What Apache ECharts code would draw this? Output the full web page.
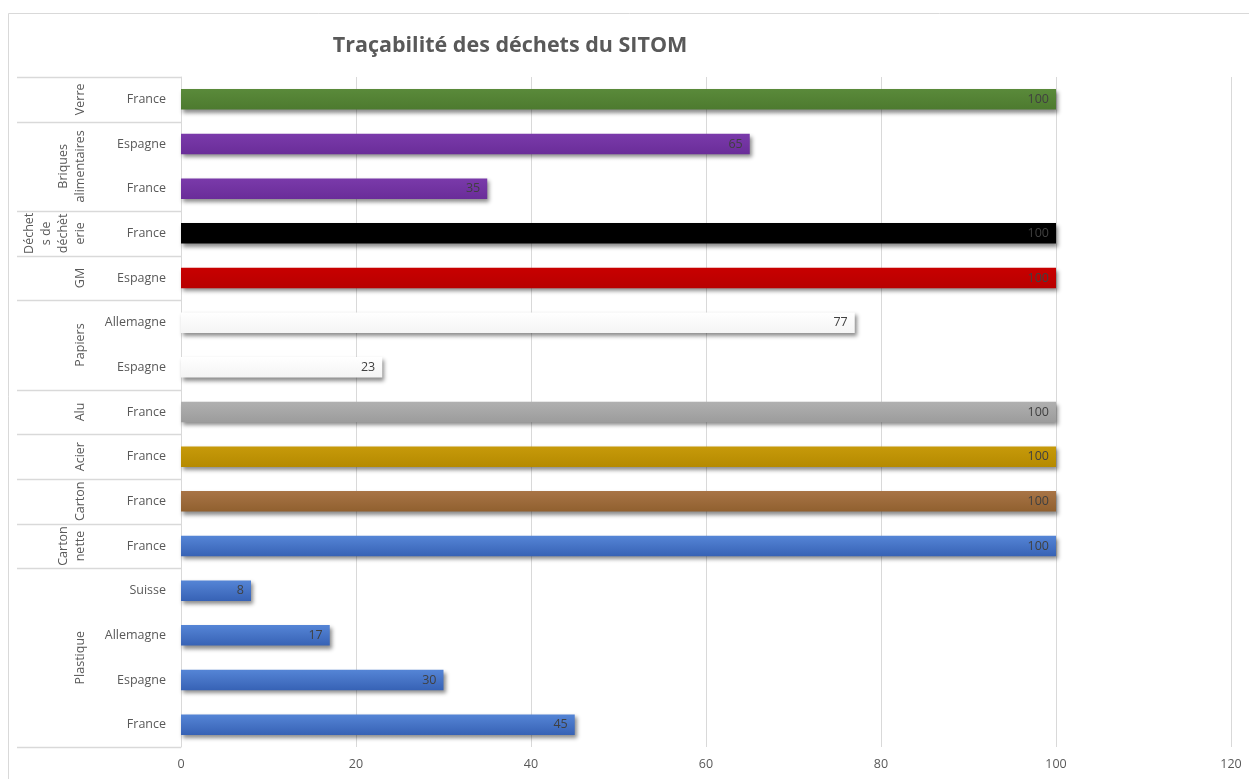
<!DOCTYPE html>
<html>
<head>
<meta charset="utf-8">
<script src="https://cdn.jsdelivr.net/npm/echarts@6/dist/echarts.min.js"></script>
<style>
html,body{margin:0;padding:0;background:#fff;}
#main{width:1249px;height:779px;}
</style>
</head>
<body>
<div id="main"></div>
<script>
// ---- data (bottom to top, as drawn by the category axis) ----
var groups = ['Plastique','Cartonnette','Carton','Acier','Alu','Papiers','GM','Déchets de déchèterie','Briques alimentaires','Verre'];
var groupLabels = ['Plastique','Carton\nnette','Carton','Acier','Alu','Papiers','GM','Déchet\ns de\ndéchèt\nerie','Briques\nalimentaires','Verre'];
var subcats = [
  ['France','Espagne','Allemagne','Suisse'],
  ['France'],
  ['France'],
  ['France'],
  ['France'],
  ['Espagne','Allemagne'],
  ['Espagne'],
  ['France'],
  ['France','Espagne'],
  ['France']
];
var values = [
  [45,30,17,8],
  [100],
  [100],
  [100],
  [100],
  [23,77],
  [100],
  [100],
  [35,65],
  [100]
];
var xTicks = [0,20,40,60,80,100,120];

// ---- styles ----
var groupColors = [
  ['#5585d6','#3762b5'],
  ['#5585d6','#3762b5'],
  ['#a87446','#90602f'],
  ['#c79a0a','#b58a00'],
  ['#b0b0b0','#9c9c9c'],
  ['#ffffff','#f4f4f4'],
  ['#c80000','#b80000'],
  ['#000000','#000000'],
  ['#7a3aaa','#6a2d99'],
  ['#5a8a3a','#4d7a2f']
];
var FONT = '"Open Sans", Lato, sans-serif';

var cats = [], data = [], groupIndex = [];
groups.forEach(function(g, gi){
  subcats[gi].forEach(function(s, si){
    cats.push(s);
    groupIndex.push(gi);
    var c = groupColors[gi];
    data.push({
      value: values[gi][si],
      itemStyle: {
        color: new echarts.graphic.LinearGradient(0,0,0,1,[{offset:0,color:c[0]},{offset:1,color:c[1]}])
      }
    });
  });
});

var chart = echarts.init(document.getElementById('main'), null, {renderer:'canvas'});
var option = {
  animation: false,
  backgroundColor: '#ffffff',
  title: {
    text: 'Traçabilité des déchets du SITOM',
    left: 505, top: 30, textAlign: 'center',
    textStyle: {fontFamily: FONT, fontSize: 21.5, fontWeight: 'bold', color: '#595959'}
  },
  grid: {left: 181, right: 18, top: 77, bottom: 32, containLabel: false},
  xAxis: {
    type: 'value', min: xTicks[0], max: xTicks[xTicks.length-1], interval: 20,
    axisLine: {show: false}, axisTick: {show: false},
    splitLine: {show: true, lineStyle: {color: '#d9d9d9', width: 1}},
    axisLabel: {color: '#595959', fontFamily: FONT, fontSize: 12.5, margin: 11}
  },
  yAxis: {
    type: 'category', data: cats,
    axisLine: {show: true, lineStyle: {color: '#d9d9d9'}},
    axisTick: {show: false},
    axisLabel: {color: '#595959', fontFamily: FONT, fontSize: 12.5, margin: 15}
  },
  series: [{
    type: 'bar',
    data: data,
    barWidth: '46%',
    itemStyle: {
      shadowColor: 'rgba(0,0,0,0.45)', shadowBlur: 4, shadowOffsetX: 2, shadowOffsetY: 3
    },
    label: {
      show: true, position: 'insideRight', distance: 7,
      color: '#404040', fontFamily: FONT, fontSize: 12.5
    }
  }]
};
chart.setOption(option);

// ---- multi-level axis decoration computed from the category scale ----
function centerY(i){ return chart.convertToPixel({yAxisIndex:0}, i); }
var n = cats.length;
var band = Math.abs(centerY(0) - centerY(1));
var xLeft = 17, xRight = 181;
var gr = [];
// outer chart border
gr.push({type:'rect', shape:{x:8.5,y:13.5,width:1300,height:900}, style:{fill:null, stroke:'#d9d9d9', lineWidth:1}, silent:true});
var start = 0;
var bounds = [centerY(0) + band/2];
groups.forEach(function(g, gi){
  var end = start + subcats[gi].length - 1;
  var bottomY = centerY(start) + band/2;
  var topY = centerY(end) - band/2;
  bounds.push(topY);
  var midY = (bottomY + topY)/2;
  gr.push({
    type: 'text',
    x: 89, y: midY,
    rotation: Math.PI/2,
    style: {
      text: groupLabels[gi],
      fill: '#595959', font: '12.5px ' + FONT,
      align: 'center', verticalAlign: 'bottom', lineHeight: 17
    },
    silent: true
  });
  start = end + 1;
});
bounds.forEach(function(y){
  var yy = Math.round(y) + 0.5;
  gr.push({type:'line', shape:{x1:xLeft,y1:yy,x2:xRight,y2:yy}, style:{stroke:'#d9d9d9', lineWidth:1.5}, silent:true});
});
chart.setOption({graphic: gr});
</script>
</body>
</html>
